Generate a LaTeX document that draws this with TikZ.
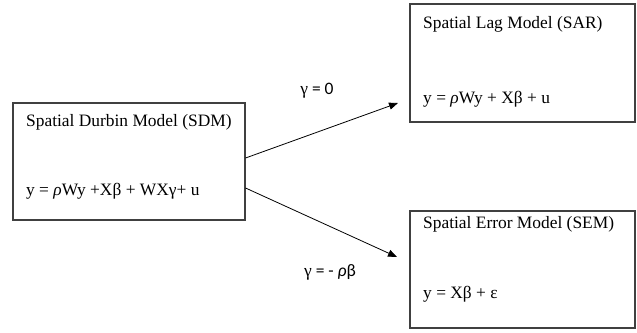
\documentclass[tikz,border=0pt]{standalone}
\usepackage{fontspec}
\setmainfont{Liberation Serif}
\newfontfamily\lblfont{Carlito}
\usetikzlibrary{arrows.meta}
\tikzset{
  modelbox/.style={draw=black!75, line width=1.1pt, rectangle, inner sep=0pt},
  boxtext/.style={anchor=base west, inner sep=0pt, font=\fontsize{17.4}{19}\selectfont},
  lbl/.style={inner sep=0pt, font=\lblfont\fontsize{17.5}{19}\selectfont},
  conn/.style={line width=0.8pt, -{Triangle[length=9pt,width=7pt]}}
}
\begin{document}
\begin{tikzpicture}[x=1pt,y=-1pt]
\useasboundingbox (0,0) rectangle (637,332);
% boxes
\node[modelbox, minimum width=232pt, minimum height=117pt] (sdm) at (129,161.5) {};
\node[modelbox, minimum width=225pt, minimum height=118pt] (sar) at (522.5,63) {};
\node[modelbox, minimum width=225pt, minimum height=117pt] (sem) at (522.5,269.5) {};
% texts
\node[boxtext] (sdmt) at (26,126) {Spatial Durbin Model (SDM)};
\node[boxtext] (sdme) at (26,195) {y = {\itshape ρ}Wy +Xβ + WXγ+ u};
\node[boxtext] (sart) at (423,28) {Spatial Lag Model (SAR)};
\node[boxtext] (sare) at (423,103) {y = {\itshape ρ}Wy + Xβ + u};
\node[boxtext] (semt) at (423,228) {Spatial Error Model (SEM)};
\node[boxtext] (seme) at (423,298) {y = Xβ + ε};
% connectors
\coordinate (a1) at (sdm.east |- 0,158);
\coordinate (a2) at (sdm.east |- 0,188);
\coordinate (e1) at (398,103);
\coordinate (e2) at (397,257);
\draw[conn] (a1) -- (e1);
\draw[conn] (a2) -- (e2);
\node[lbl] (l1) at (317,91) {{\rmfamily γ} = 0};
\node[lbl] (l2) at (330,272) {{\rmfamily γ} = - {\itshape ρ}β};
\end{tikzpicture}
\end{document}
